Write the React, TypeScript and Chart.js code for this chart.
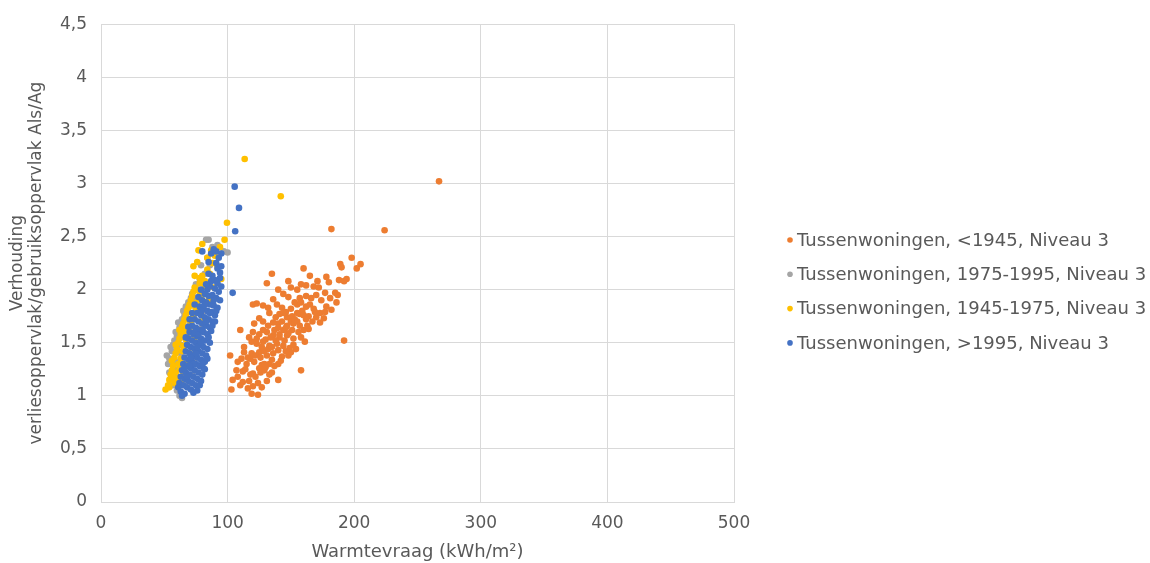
import React, { useEffect, useRef } from "react";
import { Chart, registerables } from "chart.js";

Chart.register(...registerables);

const seriesLabels = [
  "Tussenwoningen, <1945, Niveau 3",
  "Tussenwoningen, 1975-1995, Niveau 3",
  "Tussenwoningen, 1945-1975, Niveau 3",
  "Tussenwoningen, >1995, Niveau 3",
];
const seriesColors = ["#ED7D31", "#A5A5A5", "#FFC000", "#4472C4"];
const xAxisTitle = "Warmtevraag (kWh/m²)";
const yAxisTitle = ["Verhouding", "verliesoppervlak/gebruiksoppervlak Als/Ag"];
const xRange = [0, 500];
const xStep = 100;
const yRange = [0, 4.5];
const yStep = 0.5;

// <1945
const pre1945: number[][] = [
  [267, 3.02], [182, 2.57], [224, 2.56], [198, 2.3], [205, 2.24], [189, 2.24], [190, 2.21], [202, 2.2],
  [160, 2.2], [135, 2.15], [165, 2.13], [148, 2.08], [131, 2.06], [180, 2.07], [188, 2.09], [192, 2.08],
  [162, 2.04], [168, 2.03], [172, 2.02], [150, 2.02], [177, 1.97], [185, 1.97], [186, 1.88], [162, 1.94],
  [157, 1.92], [155, 1.86], [148, 1.93], [136, 1.91], [128, 1.85], [120, 1.86], [123, 1.87], [143, 1.83],
  [133, 1.78], [141, 1.77], [147, 1.74], [151, 1.75], [157, 1.77], [168, 1.82], [173, 1.78], [177, 1.79],
  [164, 1.75], [170, 1.74], [173, 1.69], [125, 1.73], [121, 1.68], [110, 1.62], [136, 1.69], [140, 1.68],
  [147, 1.66], [152, 1.68], [157, 1.66], [160, 1.62], [164, 1.63], [192, 1.52], [120, 1.6], [125, 1.58],
  [131, 1.6], [136, 1.57], [141, 1.55], [147, 1.57], [152, 1.54], [158, 1.55], [161, 1.51], [119, 1.51],
  [123, 1.49], [128, 1.51], [133, 1.47], [139, 1.49], [144, 1.47], [149, 1.45], [154, 1.44], [113, 1.41],
  [119, 1.4], [125, 1.41], [131, 1.38], [136, 1.4], [143, 1.37], [148, 1.38], [150, 1.41], [102, 1.38],
  [108, 1.32], [115, 1.3], [121, 1.32], [127, 1.29], [133, 1.3], [140, 1.3], [158, 1.24], [107, 1.24],
  [112, 1.23], [120, 1.21], [125, 1.26], [135, 1.22], [104, 1.15], [112, 1.13], [117, 1.14], [124, 1.12],
  [140, 1.15], [103, 1.06], [116, 1.07], [120, 1.09], [124, 1.01],
  [118, 1.35], [122, 1.38], [126, 1.36], [129, 1.42], [132, 1.44], [135, 1.46], [138, 1.52], [141, 1.58],
  [144, 1.62], [146, 1.64], [150, 1.7], [153, 1.72], [155, 1.78], [159, 1.8], [162, 1.84], [165, 1.86],
  [130, 1.53], [127, 1.46], [134, 1.55], [137, 1.62], [140, 1.64], [143, 1.7], [146, 1.79], [150, 1.82],
  [153, 1.88], [158, 1.88], [166, 1.92], [170, 1.95], [174, 1.9], [178, 1.84], [181, 1.92], [167, 1.7],
  [162, 1.72], [156, 1.6], [151, 1.62], [145, 1.52], [140, 1.43], [135, 1.34], [130, 1.27], [126, 1.22],
  [122, 1.18], [118, 1.2], [114, 1.25], [116, 1.36], [111, 1.35], [113, 1.46], [117, 1.55], [123, 1.54],
  [128, 1.62], [132, 1.66], [128, 1.7], [138, 1.74], [144, 1.78], [139, 1.86], [132, 1.83], [148, 1.59],
  [155, 1.7], [160, 1.76], [163, 1.66], [169, 1.79], [176, 1.73], [182, 1.81], [187, 1.95], [194, 2.1],
  [171, 2.08], [178, 2.12], [155, 2.0], [158, 2.05], [144, 1.96], [140, 2.0], [129, 1.3], [133, 1.2],
  [137, 1.28], [142, 1.33], [146, 1.42], [152, 1.48], [108, 1.18], [110, 1.1], [119, 1.02], [127, 1.08],
  [131, 1.14], [129, 1.24],
];

// 1975-1995
const y1975to1995: number[][] = [
  [64, 0.98], [62, 1.0], [60, 1.05], [57, 1.1], [55, 1.16], [54, 1.22], [53, 1.3], [52, 1.38], [54, 1.35],
  [56, 1.42], [57, 1.48], [55, 1.46], [58, 1.52], [60, 1.56], [59, 1.6], [62, 1.64], [61, 1.69], [64, 1.72],
  [66, 1.76], [65, 1.8], [67, 1.84], [69, 1.88], [71, 1.92], [72, 1.96], [75, 2.05], [76, 2.0], [79, 2.23],
  [86, 2.23], [85, 2.47], [88, 2.4], [100, 2.35], [83, 2.47], [73, 1.78], [68, 1.62], [66, 1.55], [63, 1.48],
  [60, 1.32], [58, 1.25], [61, 1.18], [66, 1.1], [70, 1.12], [72, 1.2], [74, 1.35], [78, 1.5], [80, 1.65],
  [82, 1.8], [76, 1.42], [68, 1.28], [63, 1.4], [70, 1.7], [74, 1.92], [78, 2.1], [82, 2.15], [84, 2.3],
  [97, 2.36], [92, 2.42],
];

// 1945-1975
const y1945to1975: number[][] = [
  [51, 1.06], [53, 1.1], [54, 1.15], [55, 1.2], [56, 1.24], [57, 1.28], [56, 1.33], [58, 1.36], [59, 1.4],
  [60, 1.44], [59, 1.48], [61, 1.5], [62, 1.54], [63, 1.58], [62, 1.62], [64, 1.65], [65, 1.68], [66, 1.72],
  [67, 1.76], [68, 1.8], [69, 1.83], [70, 1.86], [71, 1.9], [72, 1.94], [73, 1.98], [74, 2.02], [74, 2.13],
  [78, 2.11], [80, 2.13], [78, 2.06], [82, 2.03], [84, 2.19], [84, 2.3], [80, 2.43], [77, 2.37], [94, 2.4],
  [97.6, 2.47], [99.5, 2.63], [113.5, 3.23], [142, 2.88], [57, 1.18], [59, 1.22], [61, 1.3], [63, 1.35],
  [64, 1.42], [65, 1.47], [67, 1.53], [68, 1.58], [70, 1.64], [71, 1.7], [73, 1.75], [75, 1.82], [76, 1.88],
  [78, 1.95], [54, 1.08], [58, 1.12], [60, 1.16], [62, 1.25], [66, 1.6], [69, 1.72], [72, 1.85], [76, 2.0],
  [80, 1.95], [82, 2.08], [86, 2.15], [88, 2.25], [90, 2.32], [95, 2.1], [85, 1.9], [79, 1.7], [74, 1.55],
  [70, 1.4], [67, 1.3], [65, 1.2], [63, 1.12], [89, 2.02], [92, 2.22], [76, 2.26], [73, 2.22], [87, 2.37],
];

// >1995
const post1995: number[][] = [
  [105.6, 2.97], [109, 2.77], [106, 2.55], [104, 1.97],
  [87, 2.34], [91, 2.36], [95, 2.34], [92, 2.2], [94, 2.16], [94, 2.11], [92, 2.06], [90, 2.09], [87, 2.08],
  [84, 2.0], [89, 2.38], [93, 2.3], [91, 2.25], [95, 2.22], [88, 2.13], [86, 2.03], [90, 2.01], [93, 1.98],
  [95, 2.03], [82, 1.96], [85, 1.94], [88, 1.95], [91, 1.92], [94, 1.9],
  [80, 1.9], [83, 1.88], [86, 1.86], [89, 1.85], [92, 1.83], [78, 1.84], [81, 1.82], [84, 1.8], [87, 1.79],
  [90, 1.76], [76, 1.78], [79, 1.76], [82, 1.74], [85, 1.72], [88, 1.7], [74, 1.72], [77, 1.7], [80, 1.68],
  [83, 1.66], [86, 1.64], [72, 1.66], [75, 1.64], [78, 1.62], [81, 1.6], [84, 1.58], [87, 1.61], [70, 1.6],
  [73, 1.58], [76, 1.56], [79, 1.54], [82, 1.52], [69, 1.54], [72, 1.52], [75, 1.5], [78, 1.48], [81, 1.46],
  [84, 1.44], [68, 1.48], [71, 1.46], [74, 1.44], [77, 1.42], [80, 1.4], [83, 1.38], [67, 1.42], [70, 1.4],
  [73, 1.38], [76, 1.36], [79, 1.34], [82, 1.32], [66, 1.36], [69, 1.34], [72, 1.32], [75, 1.3], [78, 1.28],
  [81, 1.26], [65, 1.3], [68, 1.28], [71, 1.26], [74, 1.24], [77, 1.22], [80, 1.2], [64, 1.24], [67, 1.22],
  [70, 1.2], [73, 1.18], [76, 1.16], [79, 1.14], [63, 1.18], [66, 1.16], [69, 1.14], [72, 1.12], [75, 1.1],
  [62, 1.12], [65, 1.1], [68, 1.08], [71, 1.06], [63, 1.04], [66, 1.02], [64, 1.0], [61, 1.08],
  [85, 1.55], [86, 1.5], [88, 1.66], [90, 1.7], [91, 1.8], [89, 1.9], [84, 1.35], [82, 1.25], [80, 1.3],
  [76, 1.05], [73, 1.03], [78, 1.1], [70, 1.72], [72, 1.78], [74, 1.86], [77, 1.93], [79, 2.0], [83, 2.05],
  [85, 2.15], [71, 1.36], [68, 1.18], [66, 1.26], [67, 1.55], [69, 1.65], [74, 1.6], [77, 1.58], [80, 1.62],
  [83, 1.7], [86, 1.78], [79, 1.8], [82, 1.86], [75, 1.4], [73, 1.3], [70, 1.28], [76, 1.46], [79, 1.5],
  [85, 2.26], [80, 2.36],
];

const allSeries = [pre1945, y1975to1995, y1945to1975, post1995];
// Excel draws later series on top; Chart.js draws lower "order" on top
const drawOrder = [3, 2, 1, 0];

const FONT = "'DejaVu Sans', Verdana, sans-serif";
const TEXT_COLOR = "#595959";
const GRID_COLOR = "#D9D9D9";

const legendPlugin = {
  id: "customLegend",
  afterDraw(chart: any) {
    const ctx = chart.ctx;
    ctx.save();
    ctx.font = `18px ${FONT}`;
    ctx.textBaseline = "middle";
    ctx.textAlign = "left";
    seriesLabels.forEach((label, i) => {
      const y = 240 + i * 34.3;
      ctx.fillStyle = seriesColors[i];
      ctx.beginPath();
      ctx.arc(790, y, 2.8, 0, Math.PI * 2);
      ctx.fill();
      ctx.fillStyle = TEXT_COLOR;
      ctx.fillText(label, 797, y + 1);
    });
    ctx.restore();
  },
};

export default function App() {
  const canvasRef = useRef<HTMLCanvasElement | null>(null);

  useEffect(() => {
    if (!canvasRef.current) return;
    const chart = new Chart(canvasRef.current, {
      type: "scatter",
      data: {
        datasets: allSeries.map((s, i) => ({
          label: seriesLabels[i],
          data: s.map(([x, y]) => ({ x, y })),
          backgroundColor: seriesColors[i],
          borderColor: seriesColors[i],
          borderWidth: 0,
          pointRadius: 3.3,
          pointHoverRadius: 3.3,
          order: drawOrder[i],
        })),
      },
      options: {
        responsive: false,
        animation: false,
        events: [],
        layout: { padding: { left: 0, right: 416, top: 18, bottom: 0 } },
        plugins: {
          legend: { display: false },
          tooltip: { enabled: false },
        },
        scales: {
          x: {
            type: "linear",
            min: xRange[0],
            max: xRange[1],
            afterFit: (scale: any) => {
              scale.height = 61;
            },
            ticks: {
              stepSize: xStep,
              padding: 11,
              color: TEXT_COLOR,
              font: { family: FONT, size: 17 },
            },
            grid: { color: GRID_COLOR, drawTicks: false },
            border: { color: GRID_COLOR },
            title: {
              display: true,
              text: xAxisTitle,
              color: TEXT_COLOR,
              font: { family: FONT, size: 18 },
              padding: { top: 0, bottom: 0 },
            },
          },
          y: {
            type: "linear",
            min: yRange[0],
            max: yRange[1],
            afterFit: (scale: any) => {
              scale.width = 101;
            },
            ticks: {
              stepSize: yStep,
              padding: 14,
              color: TEXT_COLOR,
              font: { family: FONT, size: 17 },
              callback: (v: any) => String(v).replace(".", ","),
            },
            grid: { color: GRID_COLOR, drawTicks: false },
            border: { color: GRID_COLOR },
            title: {
              display: true,
              text: yAxisTitle,
              color: TEXT_COLOR,
              font: { family: FONT, size: 17, lineHeight: 1.12 },
              padding: { top: 8, bottom: 0 },
            },
          },
        },
      },
      plugins: [legendPlugin],
    });
    return () => chart.destroy();
  }, []);

  return (
    <div style={{ position: "absolute", left: 0, top: 0, width: 1150, height: 563, background: "#fff" }}>
      <canvas ref={canvasRef} width={1150} height={563} style={{ display: "block" }} />
    </div>
  );
}
